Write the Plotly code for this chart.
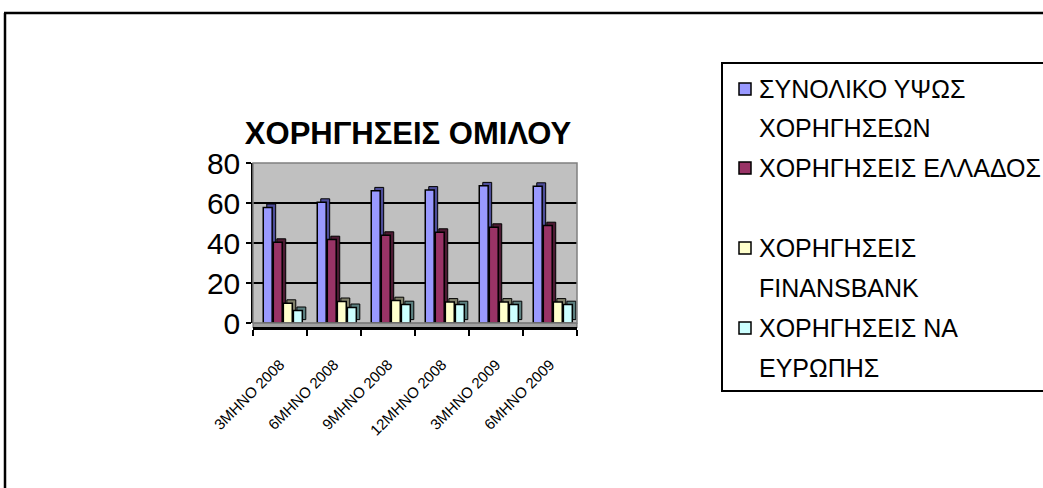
import plotly.graph_objects as go

# ---------------- data ----------------
categories = ["3ΜΗΝΟ 2008", "6ΜΗΝΟ 2008", "9ΜΗΝΟ 2008", "12ΜΗΝΟ 2008", "3ΜΗΝΟ 2009", "6ΜΗΝΟ 2009"]
total_loans = [57.8, 60.4, 66.1, 66.5, 68.6, 68.4]
greece_loans = [40.4, 41.7, 43.9, 45.4, 47.9, 48.7]
finansbank_loans = [9.9, 10.8, 11.2, 10.5, 10.5, 10.5]
se_europe_loans = [6.3, 7.8, 9.2, 9.2, 9.2, 9.2]

series_names = [
    ["ΣΥΝΟΛΙΚΟ ΥΨΩΣ", "ΧΟΡΗΓΗΣΕΩΝ"],
    ["ΧΟΡΗΓΗΣΕΙΣ ΕΛΛΑΔΟΣ", ""],
    ["ΧΟΡΗΓΗΣΕΙΣ", "FINANSBANK"],
    ["ΧΟΡΗΓΗΣΕΙΣ ΝΑ", "ΕΥΡΩΠΗΣ"],
]
series_values = [total_loans, greece_loans, finansbank_loans, se_europe_loans]
front_colors = ["#9999FF", "#993366", "#FFFFCC", "#CCFFFF"]
side_colors = ["#4D4D99", "#4D1A33", "#80806A", "#5C8080"]
y_ticks = [0, 20, 40, 60, 80]

# ---------------- layout geometry ----------------
W, H = 1043, 488
ML, MR, MT, MB = 253, 1043 - 577, 163, 488 - 328
PW = W - ML - MR
PH = H - MT - MB
FLOOR = 5  # px


def px_x(px):
    return (px - ML) / PW


def px_y(py):
    return (H - MB - py) / PH


FONT = "Liberation Sans, Arial, sans-serif"
BAR_W = 0.165
OFFSETS = [-0.31, -0.124, 0.062, 0.248]
DEPTH_X = 0.065
DEPTH_Y = 1.7

fig = go.Figure()
for i, vals in enumerate(series_values):
    name = " ".join(n for n in series_names[i] if n)
    fig.add_trace(go.Bar(
        x=categories, y=vals, base=DEPTH_Y,
        width=[BAR_W] * len(vals), offset=OFFSETS[i] + DEPTH_X,
        marker=dict(color=side_colors[i], line=dict(color="black", width=1)),
        showlegend=False, hoverinfo="skip", name=name + " (3D)",
    ))
    fig.add_trace(go.Bar(
        x=categories, y=vals,
        width=[BAR_W] * len(vals), offset=OFFSETS[i],
        marker=dict(color=front_colors[i], line=dict(color="black", width=1.5)),
        showlegend=False, name=name,
    ))

shapes = []
# floor
shapes.append(dict(type="rect", xref="paper", yref="paper", x0=0, x1=1, y0=0, y1=FLOOR / PH,
                   fillcolor="#A0A0A0", line=dict(color="#606060", width=1), layer="below"))
# plot area outline
shapes.append(dict(type="rect", xref="x domain", yref="y domain", x0=0, x1=1, y0=0, y1=1,
                   line=dict(color="#808080", width=1.5), layer="above"))
# outer chart border (top + left)
shapes.append(dict(type="line", xref="paper", yref="paper", x0=px_x(4), x1=px_x(1100),
                   y0=px_y(13), y1=px_y(13), line=dict(color="black", width=2.5)))
shapes.append(dict(type="line", xref="paper", yref="paper", x0=px_x(5), x1=px_x(5),
                   y0=px_y(13), y1=px_y(600), line=dict(color="black", width=2.5)))
# legend box
shapes.append(dict(type="rect", xref="paper", yref="paper", x0=px_x(722), x1=px_x(1100),
                   y0=px_y(391), y1=px_y(63), line=dict(color="black", width=2), fillcolor="white",
                   layer="below"))

annotations = []
legend_line_y = [[89, 128], [168, 208], [248, 288], [328, 368]]
for i in range(4):
    sy = legend_line_y[i][0]
    shapes.append(dict(type="rect", xref="paper", yref="paper",
                       x0=px_x(739), x1=px_x(751), y0=px_y(sy + 6), y1=px_y(sy - 6),
                       fillcolor=front_colors[i], line=dict(color="black", width=1.5)))
    for j, txt in enumerate(series_names[i]):
        if not txt:
            continue
        annotations.append(dict(xref="paper", yref="paper", x=px_x(757), y=px_y(legend_line_y[i][j]),
                                text=txt, showarrow=False, xanchor="left", yanchor="middle",
                                font=dict(family=FONT, size=25, color="black")))

fig.update_layout(
    width=W, height=H,
    margin=dict(l=ML, r=MR, t=MT, b=MB, autoexpand=False),
    paper_bgcolor="white",
    plot_bgcolor="#C0C0C0",
    barmode="overlay",
    showlegend=False,
    font=dict(family=FONT, color="black"),
    title=dict(text="<b>ΧΟΡΗΓΗΣΕΙΣ ΟΜΙΛΟΥ</b>", xref="container", yref="container",
               x=408 / W, y=1 - 133 / H, xanchor="center", yanchor="middle",
               font=dict(family=FONT, size=31, color="black")),
    xaxis=dict(
        type="category", categoryorder="array", categoryarray=categories,
        anchor="free", position=0,
        showline=True, linecolor="black", linewidth=3,
        ticks="outside", tickson="boundaries", ticklen=6, tickwidth=1.5, tickcolor="black",
        tickangle=-45, tickfont=dict(family=FONT, size=15, color="black"),
        ticklabelstandoff=20,
        showgrid=False, zeroline=False,
    ),
    yaxis=dict(
        domain=[FLOOR / PH, 1], range=[0, 80],
        tickvals=y_ticks, ticktext=[str(v) for v in y_ticks],
        showline=True, linecolor="black", linewidth=1.5,
        ticks="outside", ticklen=5, tickwidth=1.5, tickcolor="black",
        tickfont=dict(family=FONT, size=30, color="black"),
        showgrid=True, gridcolor="black", gridwidth=1.5,
        zeroline=False,
    ),
    shapes=shapes,
    annotations=annotations,
)

fig.write_html(
    "out.html",
    config={"displayModeBar": False, "staticPlot": False},
    post_script="document.body.style.margin='0';document.body.style.padding='0';"
                "document.body.style.overflow='hidden';",
)
